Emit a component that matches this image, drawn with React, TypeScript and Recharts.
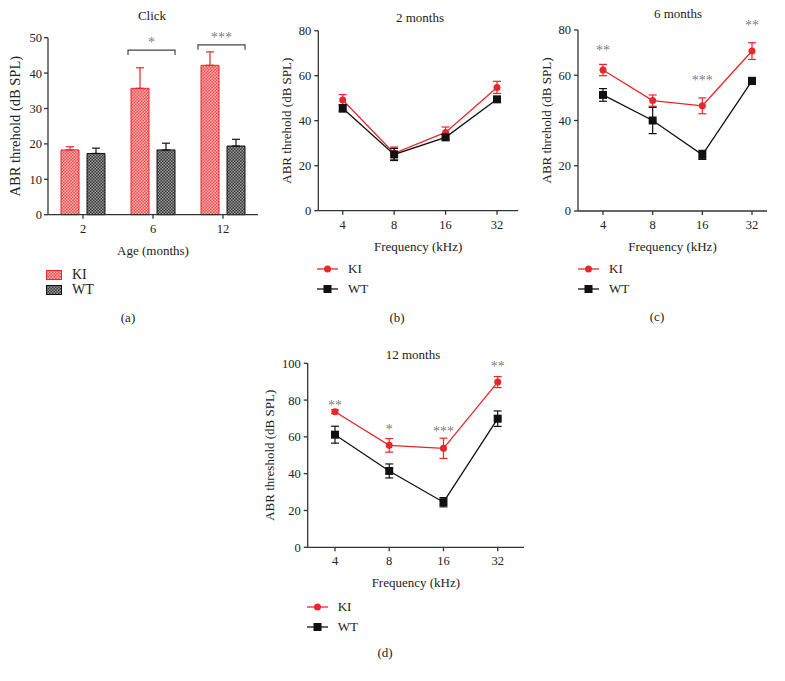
import React from "react";
import { BarChart, Bar, LineChart, Line, XAxis, YAxis, ErrorBar, ReferenceDot, Legend, LabelList } from "recharts";

const FONT = '"Liberation Serif", "Times New Roman", serif';
const RED = "#e8262b";
const BLACK = "#111111";
const AXIS = "#333333";
const STAR = "#808080";

// (a) click ABR, bars
const ageMonths = ["2", "6", "12"];
const clickKI = [18.3, 35.7, 42.2];
const clickKIErr = [0.9, 5.8, 3.8];
const clickWT = [17.3, 18.3, 19.4];
const clickWTErr = [1.5, 1.9, 1.9];
const clickTicks = [0, 10, 20, 30, 40, 50];
// significance brackets per age group (0 = none)
const bracketY = [0, 46.5, 48];
const bracketStars = ["", "*", "***"];

// (b)-(d) frequency curves
const freqs = ["4", "8", "16", "32"];

const m2KI = [49.2, 25.5, 34.8, 54.8];
const m2KIErr = [2.4, 2.8, 2.4, 2.7];
const m2WT = [45.5, 25, 32.6, 49.5];
const m2WTErr = [1.6, 2.7, 1.2, 1];

const m6KI = [62.3, 48.8, 46.5, 70.7];
const m6KIErr = [2.5, 2.5, 3.5, 3.7];
const m6WT = [51.3, 40, 24.8, 57.5];
const m6WTErr = [2.8, 5.8, 2, 1.5];
const m6StarX = ["4", "16", "32"];
const m6StarY = [69, 55.7, 80];
const m6Stars = ["**", "***", "**"];

const m12KI = [73.7, 55.4, 53.8, 89.8];
const m12KIErr = [1, 3.7, 5.5, 3];
const m12WT = [61.2, 41.5, 24.5, 69.9];
const m12WTErr = [4.6, 3.8, 2.5, 4.2];
const m12StarX = ["4", "8", "16", "32"];
const m12StarY = [74.8, 61.6, 60.5, 95.9];
const m12Stars = ["**", "*", "***", "**"];

const ticks80 = [0, 20, 40, 60, 80];
const ticks100 = [0, 20, 40, 60, 80, 100];

const tickStyle = { fill: "#222", fontSize: 12.5, fontFamily: FONT };
const labelStyle = { fill: "#222", fontSize: 13, fontFamily: FONT };

const BAR_SIZE = 18;
const BAR_GAP = 8;

function Caption({ x, y, text, size = 13 }: { x: number; y: number; text: string; size?: number }) {
  return (
    <div
      style={{
        position: "absolute",
        left: x - 60,
        top: y - 8,
        width: 120,
        textAlign: "center",
        lineHeight: "16px",
        fontSize: size,
        fontFamily: FONT,
        color: "#222",
      }}
    >
      {text}
    </div>
  );
}

const barLegend = (props: any) => (
  <div style={{ fontFamily: FONT, fontSize: 14, color: "#222" }}>
    {(props.payload || []).map((e: any) => (
      <div key={e.value} style={{ display: "flex", alignItems: "center", height: 15 }}>
        <svg width={16} height={10}>
          <rect
            x={0.5}
            y={0.5}
            width={15}
            height={9}
            fill={e.value === "KI" ? "url(#kiPat)" : "url(#wtPat)"}
            stroke={e.value === "KI" ? RED : BLACK}
          />
        </svg>
        <span style={{ marginLeft: 10 }}>{e.value}</span>
      </div>
    ))}
  </div>
);

const lineLegend = (props: any) => (
  <div style={{ fontFamily: FONT, fontSize: 13, color: "#222" }}>
    {(props.payload || []).map((e: any) => (
      <div key={e.value} style={{ display: "flex", alignItems: "center", height: 20 }}>
        <svg width={21} height={10}>
          <line x1={0} y1={5} x2={21} y2={5} stroke={e.color} strokeWidth={1.3} />
          {e.value === "WT" ? (
            <rect x={6.5} y={1} width={8} height={8} fill={e.color} />
          ) : (
            <circle cx={10.5} cy={5} r={3.5} fill={e.color} />
          )}
        </svg>
        <span style={{ marginLeft: 10 }}>{e.value}</span>
      </div>
    ))}
  </div>
);

// bracket drawn from the WT bar geometry: spans KI bar + WT bar, height via the bar's own px/unit
const renderBracket = (p: any) => {
  const i = p.index;
  const yVal = bracketY[i];
  if (!yVal) return null;
  const x = Number(p.x);
  const w = Number(p.width);
  const top = Number(p.y);
  const h = Number(p.height);
  const val = clickWT[i];
  const pxPerUnit = h / val;
  const base = top + h;
  const by = base - yVal * pxPerUnit;
  const x1 = x - w - BAR_GAP - 3;
  const x2 = x + w;
  return (
    <g key={`br-${i}`}>
      <path d={`M${x1},${by + 5}L${x1},${by}L${x2},${by}L${x2},${by + 5}`} fill="none" stroke="#444" strokeWidth={1.2} />
      <text x={(x1 + x2) / 2} y={by - 3} textAnchor="middle" fill={STAR} fontSize={14} fontFamily={FONT}>
        {bracketStars[i]}
      </text>
    </g>
  );
};

function ClickPanel() {
  const data = ageMonths.map((a, i) => ({
    age: a,
    ki: clickKI[i],
    kiErr: [0, clickKIErr[i]],
    wt: clickWT[i],
    wtErr: [0, clickWTErr[i]],
  }));
  return (
    <div style={{ position: "absolute", left: 0, top: 0 }}>
      <BarChart
        width={265}
        height={300}
        data={data}
        margin={{ top: 37.7, right: 7, left: 0, bottom: 45.3 }}
        barSize={BAR_SIZE}
        barGap={BAR_GAP}
      >
        <defs>
          <pattern id="kiPat" width="3" height="3" patternUnits="userSpaceOnUse">
            <rect width="3" height="3" fill="#ee4a4c" />
            <rect x="0" y="0" width="1.5" height="1.5" fill="#f8b4b4" />
            <rect x="1.5" y="1.5" width="1.5" height="1.5" fill="#f8b4b4" />
          </pattern>
          <pattern id="wtPat" width="3" height="3" patternUnits="userSpaceOnUse">
            <rect width="3" height="3" fill="#3a3a3a" />
            <rect x="0" y="0" width="1.5" height="1.5" fill="#9a9a9a" />
            <rect x="1.5" y="1.5" width="1.5" height="1.5" fill="#9a9a9a" />
          </pattern>
        </defs>
        <XAxis
          dataKey="age"
          stroke={AXIS}
          strokeWidth={1.3}
          tick={tickStyle}
          tickSize={4}
          tickMargin={5}
          height={40}
          label={{ value: "Age (months)", position: "insideBottom", offset: 0, ...labelStyle }}
        />
        <YAxis
          domain={[0, 50]}
          ticks={clickTicks}
          width={48}
          stroke={AXIS}
          strokeWidth={1.3}
          tick={tickStyle}
          tickSize={4}
          tickMargin={2}
          label={{
            value: "ABR threhold (dB SPL)",
            angle: -90,
            position: "insideLeft",
            offset: 15,
            ...labelStyle,
            fontSize: 14.5,
            style: { textAnchor: "middle" },
          }}
        />
        <Bar dataKey="ki" name="KI" fill="url(#kiPat)" stroke={RED} strokeWidth={1} isAnimationActive={false}>
          <ErrorBar dataKey="kiErr" width={4} stroke={RED} strokeWidth={1.2} direction="y" />
        </Bar>
        <Bar dataKey="wt" name="WT" fill="url(#wtPat)" stroke={BLACK} strokeWidth={1} isAnimationActive={false}>
          <ErrorBar dataKey="wtErr" width={4} stroke={BLACK} strokeWidth={1.2} direction="y" />
          <LabelList dataKey="wt" content={renderBracket} />
        </Bar>
        <Legend
          layout="vertical"
          align="center"
          verticalAlign="middle"
          content={barLegend}
          wrapperStyle={{ left: 46, top: 267, width: "auto" }}
        />
      </BarChart>
    </div>
  );
}

type FreqCfg = {
  left: number;
  top: number;
  width: number;
  height: number;
  margin: { top: number; right: number; left: number; bottom: number };
  yWidth: number;
  yLabel: string;
  yLabelOffset: number;
  pad: { left: number; right: number };
  max: number;
  ticks: number[];
  ki: number[];
  kiErr: number[];
  wt: number[];
  wtErr: number[];
  starX: string[];
  starY: number[];
  stars: string[];
  legend: { left: number; top: number };
};

function FreqPanel({ cfg }: { cfg: FreqCfg }) {
  const data = freqs.map((f, i) => ({
    f,
    ki: cfg.ki[i],
    kiErr: cfg.kiErr[i],
    wt: cfg.wt[i],
    wtErr: cfg.wtErr[i],
  }));
  return (
    <div style={{ position: "absolute", left: cfg.left, top: cfg.top }}>
      <LineChart width={cfg.width} height={cfg.height} data={data} margin={cfg.margin}>
        <XAxis
          dataKey="f"
          padding={cfg.pad}
          stroke={AXIS}
          strokeWidth={1.3}
          tick={tickStyle}
          tickSize={4}
          tickMargin={5}
          height={40}
          label={{ value: "Frequency (kHz)", position: "insideBottom", offset: 0, ...labelStyle }}
        />
        <YAxis
          domain={[0, cfg.max]}
          ticks={cfg.ticks}
          width={cfg.yWidth}
          stroke={AXIS}
          strokeWidth={1.3}
          tick={tickStyle}
          tickSize={4}
          tickMargin={3}
          label={{
            value: cfg.yLabel,
            angle: -90,
            position: "insideLeft",
            offset: cfg.yLabelOffset,
            ...labelStyle,
            style: { textAnchor: "middle" },
          }}
        />
        <Line
          dataKey="ki"
          name="KI"
          stroke={RED}
          strokeWidth={1.3}
          isAnimationActive={false}
          dot={(p: any) => <circle key={`ki-${p.index}`} cx={p.cx} cy={p.cy} r={3.5} fill={RED} />}
          activeDot={false}
        >
          <ErrorBar dataKey="kiErr" width={4} stroke={RED} strokeWidth={1.2} direction="y" />
        </Line>
        <Line
          dataKey="wt"
          name="WT"
          stroke={BLACK}
          strokeWidth={1.3}
          isAnimationActive={false}
          dot={(p: any) => (
            <rect key={`wt-${p.index}`} x={p.cx - 4} y={p.cy - 4} width={8} height={8} fill={BLACK} />
          )}
          activeDot={false}
        >
          <ErrorBar dataKey="wtErr" width={4} stroke={BLACK} strokeWidth={1.2} direction="y" />
        </Line>
        {cfg.starX.map((x, i) => (
          <ReferenceDot
            key={`s-${i}`}
            x={x}
            y={cfg.starY[i]}
            r={1}
            ifOverflow="visible"
            shape={(p: any) => (
              <text x={p.cx} y={p.cy} textAnchor="middle" fill={STAR} fontSize={14} fontFamily={FONT}>
                {cfg.stars[i]}
              </text>
            )}
          />
        ))}
        <Legend
          layout="vertical"
          align="center"
          verticalAlign="middle"
          content={lineLegend}
          wrapperStyle={{ left: cfg.legend.left, top: cfg.legend.top, width: "auto" }}
        />
      </LineChart>
    </div>
  );
}

const panelB: FreqCfg = {
  left: 260,
  top: 0,
  width: 265,
  height: 300,
  margin: { top: 30.7, right: 7, left: 0, bottom: 49.3 },
  yWidth: 58.3,
  yLabel: "ABR threhold (dB SPL)",
  yLabelOffset: 26.5,
  pad: { left: 24.4, right: 21 },
  max: 80,
  ticks: ticks80,
  ki: m2KI,
  kiErr: m2KIErr,
  wt: m2WT,
  wtErr: m2WTErr,
  starX: [],
  starY: [],
  stars: [],
  legend: { left: 57, top: 259 },
};

const panelC: FreqCfg = {
  left: 520,
  top: 0,
  width: 265,
  height: 300,
  margin: { top: 30, right: 18, left: 0, bottom: 49 },
  yWidth: 58,
  yLabel: "ABR threhold (dB SPL)",
  yLabelOffset: 26.7,
  pad: { left: 25, right: 15 },
  max: 80,
  ticks: ticks80,
  ki: m6KI,
  kiErr: m6KIErr,
  wt: m6WT,
  wtErr: m6WTErr,
  starX: m6StarX,
  starY: m6StarY,
  stars: m6Stars,
  legend: { left: 58, top: 259 },
};

const panelD: FreqCfg = {
  left: 250,
  top: 340,
  width: 290,
  height: 320,
  margin: { top: 23.3, right: 16, left: 0, bottom: 72.7 },
  yWidth: 57.7,
  yLabel: "ABR threshold (dB SPL)",
  yLabelOffset: 19,
  pad: { left: 27.3, right: 26.3 },
  max: 100,
  ticks: ticks100,
  ki: m12KI,
  kiErr: m12KIErr,
  wt: m12WT,
  wtErr: m12WTErr,
  starX: m12StarX,
  starY: m12StarY,
  stars: m12Stars,
  legend: { left: 56.7, top: 257 },
};

export default function App() {
  return (
    <div
      style={{
        position: "absolute",
        left: 0,
        top: 0,
        width: 785,
        height: 681,
        background: "#fff",
        fontFamily: FONT,
        overflow: "hidden",
      }}
    >
      <ClickPanel />
      <FreqPanel cfg={panelB} />
      <FreqPanel cfg={panelC} />
      <FreqPanel cfg={panelD} />
      <Caption x={152} y={16} text="Click" />
      <Caption x={420} y={18} text="2 months" />
      <Caption x={678} y={14} text="6 months" />
      <Caption x={413} y={355} text="12 months" />
      <Caption x={128} y={318} text="(a)" />
      <Caption x={397} y={318} text="(b)" />
      <Caption x={657} y={317} text="(c)" />
      <Caption x={385} y={653} text="(d)" />
    </div>
  );
}
